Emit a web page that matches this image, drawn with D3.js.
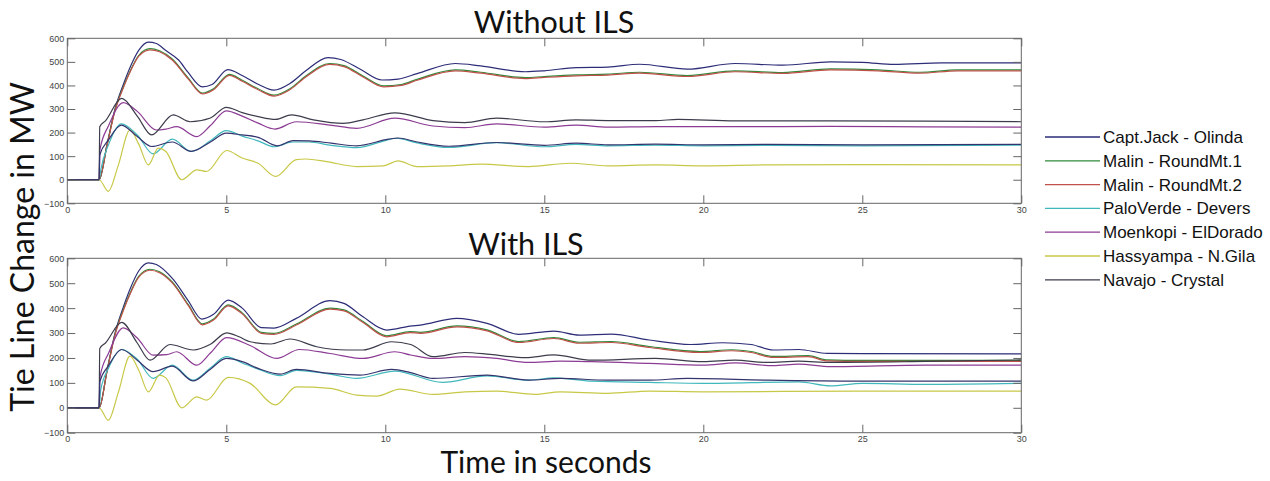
<!DOCTYPE html>
<html><head><meta charset="utf-8">
<script src="https://cdn.jsdelivr.net/npm/d3@7"></script>
<style>body{margin:0;background:#fff;} svg{display:block;}</style>
</head><body>
<svg id="chart" width="1270" height="481"></svg>
<script>
// ---------- data ----------
const seriesNames = ["Capt.Jack - Olinda","Malin - RoundMt.1","Malin - RoundMt.2","PaloVerde - Devers","Moenkopi - ElDorado","Hassyampa - N.Gila","Navajo - Crystal"];
const xTicks = [0,5,10,15,20,25,30];
const yTicks = [-100,0,100,200,300,400,500,600];
const panelTitles = ["Without ILS","With ILS"];

// Without ILS : [time s, MW]
const captJackTop = [[0,0],[1,0],[1.25,150],[1.5,300],[1.75,400],[2.0,485],[2.25,550],[2.55,584],[2.8,578],[3.1,548],[3.5,508],[3.8,455],[4.25,394],[4.55,404],[5.05,467],[5.5,442],[6.0,405],[6.5,380],[7.0,408],[7.5,462],[8.2,518],[8.6,510],[9.2,470],[9.9,423],[10.4,427],[11,450],[12.2,493],[13,483],[14.4,458],[15,462],[16,476],[17,478],[18,490],[19.5,469],[21,493],[22.5,486],[24,500],[25,498],[26,489],[27.5,496],[30,496]];
const malin1Top = [[0,0],[1,0],[1.25,148],[1.5,295],[1.75,390],[2.0,468],[2.25,528],[2.6,556],[2.9,547],[3.3,512],[3.8,432],[4.25,368],[4.6,386],[5.1,447],[5.5,422],[6.0,386],[6.5,359],[7.0,386],[7.5,440],[8.25,493],[8.7,484],[9.3,440],[9.95,398],[10.5,404],[11,426],[12.2,466],[13,456],[14.4,433],[15,438],[16,445],[17,448],[18,456],[19.5,442],[21,462],[22.5,455],[24,470],[25.5,466],[26.8,456],[28,466],[30,466]];
const malin2Top = [[0,0],[1,0],[1.25,146],[1.5,292],[1.75,386],[2.0,464],[2.25,524],[2.6,551],[2.9,543],[3.3,508],[3.8,428],[4.25,364],[4.6,382],[5.1,443],[5.5,418],[6.0,382],[6.5,355],[7.0,382],[7.5,436],[8.25,489],[8.7,480],[9.3,436],[9.95,394],[10.5,400],[11,422],[12.2,462],[13,452],[14.4,429],[15,434],[16,441],[17,444],[18,452],[19.5,438],[21,458],[22.5,451],[24,466],[25.5,462],[26.8,452],[28,462],[30,462]];
const paloVerdeTop = [[0,0],[1,0],[1.05,40],[1.3,150],[1.7,237],[2.2,190],[2.7,110],[3.3,172],[3.9,120],[4.5,165],[5.0,208],[5.5,185],[6.0,165],[6.5,140],[7.1,160],[7.6,160],[8.3,146],[9.1,136],[10.0,166],[10.35,176],[11,156],[12,137],[13.5,157],[15,140],[16,150],[17,144],[18.5,147],[20,144],[22,146],[25,144],[30,147]];
const moenkopiTop = [[0,0],[1,0],[1.03,130],[1.3,230],[1.76,327],[2.2,290],[2.8,211],[3.1,215],[3.44,225],[4.07,183],[4.5,230],[5.0,292],[5.5,270],[6.0,240],[6.53,215],[7.2,246],[8.26,232],[9.1,218],[10.3,261],[11.5,228],[12.5,221],[13.5,237],[15,223],[16,232],[17,223],[18.5,225],[21,225],[24,226],[27,224],[30,223]];
const hassyampaTop = [[0,0],[1,0],[1.29,-49],[1.6,60],[1.97,211],[2.25,150],[2.55,63],[2.86,134],[3.1,120],[3.6,0],[4.07,42],[4.38,35],[5.01,124],[5.5,92],[6.0,70],[6.55,14],[7.2,85],[7.5,88],[8.15,77],[9.1,56],[9.94,59],[10.4,80],[11,56],[12,59],[13,66],[14.5,56],[15.8,70],[17,59],[18.5,63],[20,59],[22,63],[25,64],[30,63]];
const navajoTop = [[0,0],[1,0],[1.02,225],[1.2,250],[1.71,345],[2.2,270],[2.65,190],[3.33,275],[3.86,246],[4.5,262],[5.0,307],[5.5,285],[6.0,268],[6.55,256],[7.05,275],[7.74,254],[8.68,239],[9.3,254],[10.3,284],[11.5,251],[12.5,242],[13.5,261],[15,246],[16,254],[17,251],[18.5,251],[19.2,256],[21,250],[24,250],[27,249],[30,246]];
const extraTop = [[0,0],[1,0],[1.02,105],[1.3,170],[1.7,232],[2.2,183],[2.65,141],[3.3,160],[3.9,120],[4.5,160],[5.0,198],[5.5,190],[6.0,180],[6.6,144],[7.1,166],[7.6,165],[8.3,155],[9.1,144],[10.1,172],[10.4,177],[11,160],[12,142],[13.5,158],[15,146],[16,155],[17,148],[18.5,151],[20,148],[22,150],[25,148],[30,150]];

// With ILS
const captJackBot = [[0,0],[1,0],[1.25,150],[1.5,300],[1.75,400],[2.0,485],[2.25,550],[2.55,582],[2.8,575],[3.33,515],[3.8,430],[4.23,356],[4.6,375],[5.06,432],[5.5,400],[6.1,322],[6.5,320],[7.2,359],[8.26,430],[8.7,419],[9.3,365],[10.04,312],[10.78,328],[11.1,332],[12.25,359],[13.2,339],[14.2,295],[15.3,308],[16.1,292],[17.1,296],[18.3,272],[19.6,254],[20.6,261],[21.5,254],[22.2,232],[23,234],[23.9,218],[25,217],[30,216]];
const malin1Bot = [[0,0],[1,0],[1.25,148],[1.5,295],[1.75,390],[2.0,468],[2.25,528],[2.6,556],[2.9,546],[3.3,505],[3.8,415],[4.25,337],[4.6,356],[5.06,413],[5.5,381],[6.1,303],[6.5,299],[7.2,336],[8.26,400],[8.7,393],[9.3,346],[10.04,289],[10.78,306],[11.1,303],[12.25,329],[13.2,313],[14.2,266],[15.3,282],[16.1,263],[17.1,266],[18.3,246],[19.9,226],[20.9,233],[21.5,226],[22.2,206],[23.3,209],[23.9,192],[25,190],[30,190]];
const malin2Bot = [[0,0],[1,0],[1.25,146],[1.5,292],[1.75,386],[2.0,464],[2.25,524],[2.6,552],[2.9,542],[3.3,501],[3.8,411],[4.25,333],[4.6,352],[5.06,409],[5.5,377],[6.1,299],[6.5,295],[7.2,332],[8.26,396],[8.7,389],[9.3,342],[10.04,285],[10.78,302],[11.1,299],[12.25,325],[13.2,309],[14.2,262],[15.3,278],[16.1,259],[17.1,262],[18.3,242],[19.9,222],[20.9,229],[21.5,222],[22.2,202],[23.3,205],[23.9,188],[25,186],[30,186]];
const paloVerdeBot = [[0,0],[1,0],[1.05,71],[1.3,160],[1.71,234],[2.2,195],[2.7,118],[3.3,171],[3.95,111],[4.5,160],[5.0,205],[5.5,180],[6.0,155],[6.7,129],[7.2,150],[8.26,135],[9.1,118],[10.3,147],[11.8,102],[13.2,128],[14.5,111],[15.3,120],[16.5,107],[18.3,102],[20,98],[23,104],[24,88],[25,98],[27,94],[30,98]];
const moenkopiBot = [[0,0],[1,0],[1.03,125],[1.3,220],[1.76,321],[2.2,280],[2.7,211],[3.13,213],[3.44,225],[4.07,171],[4.5,220],[5.01,282],[5.75,250],[6.58,198],[7.3,234],[8.26,218],[9.3,198],[10.3,225],[10.8,212],[11.5,198],[12.5,205],[13.5,198],[14.5,182],[15.5,187],[16.5,185],[18.3,178],[20,171],[21,180],[22.2,169],[23,175],[24,165],[27,171],[30,171]];
const hassyampaBot = [[0,0],[1,0],[1.29,-50],[1.6,60],[1.97,207],[2.25,150],[2.55,64],[2.9,131],[3.1,120],[3.6,0],[4.07,44],[4.38,31],[5.06,122],[5.75,98],[6.55,12],[7.2,84],[8.26,78],[9.1,51],[9.73,47],[10.46,75],[11.5,54],[12.5,64],[13.5,67],[14.7,54],[15.5,64],[17,58],[18.3,67],[20,64],[25,67],[30,67]];
const navajoBot = [[0,0],[1,0],[1.02,238],[1.2,260],[1.71,343],[2.2,260],[2.6,191],[3.23,254],[3.96,232],[4.5,255],[5.01,301],[5.4,285],[5.75,265],[6.4,256],[7.0,276],[7.84,245],[8.8,232],[9.3,232],[10.2,265],[10.8,254],[11.5,205],[12.5,222],[13.3,214],[14.4,201],[15.3,212],[16.5,191],[18.5,198],[20,185],[21,191],[22,182],[23,187],[24,182],[27,186],[30,192]];
const extraBot = [[0,0],[1,0],[1.02,104],[1.3,170],[1.71,234],[2.2,191],[2.7,145],[3.3,167],[3.95,108],[4.5,155],[5.0,198],[5.5,185],[6.0,158],[6.7,135],[7.2,154],[8.26,138],[9.2,131],[10.2,154],[10.8,141],[11.5,118],[13.2,131],[14.5,111],[15.5,118],[17,111],[18.3,111],[19.5,118],[22,111],[25,107],[30,107]];

const colors = ["#2d2d78","#2f8a3a","#c0504a","#40b8bc","#8c3c94","#c8c848","#3c3c4c","#34346e"];

// ---------- layout ----------
const svg = d3.select("#chart");
const left = 67.3, right = 1021.3;
const titleFont = "Lato, 'Open Sans', sans-serif";
const panels = [
  {top:38.3, bottom:203.3, title:panelTitles[0], titleX:554, titleY:33,
   data:[captJackTop,malin1Top,malin2Top,paloVerdeTop,moenkopiTop,hassyampaTop,navajoTop,extraTop]},
  {top:258.3, bottom:432.7, title:panelTitles[1], titleX:526, titleY:255,
   data:[captJackBot,malin1Bot,malin2Bot,paloVerdeBot,moenkopiBot,hassyampaBot,navajoBot,extraBot]}
];
const x = d3.scaleLinear().domain([0,30]).range([left,right]);

panels.forEach((p,pi) => {
  const y = d3.scaleLinear().domain([-100,600]).range([p.bottom,p.top]);
  const g = svg.append("g");
  const clipId = "clip"+pi;
  svg.append("clipPath").attr("id",clipId).append("rect")
    .attr("x",left).attr("y",p.top).attr("width",right-left).attr("height",p.bottom-p.top);

  const line = d3.line().x(d=>x(d[0])).y(d=>y(d[1])).curve(d3.curveMonotoneX);
  const lg = g.append("g").attr("clip-path",`url(#${clipId})`);
  p.data.forEach((s,i) => {
    lg.append("path").attr("d",line(s)).attr("fill","none")
      .attr("stroke",colors[i]).attr("stroke-width",1.2).attr("stroke-linejoin","round");
  });

  const tickLen = 8;
  const axStyle = a => { a.select(".domain").remove();
    a.selectAll("line").attr("stroke","#666");
    a.selectAll("text").attr("fill","#444").attr("font-family","Liberation Sans, Arial, sans-serif").attr("font-size",9); };
  g.append("g").attr("transform",`translate(0,${p.bottom})`)
    .call(d3.axisBottom(x).tickValues(xTicks).tickFormat(d3.format("d")).tickSizeInner(-tickLen).tickSizeOuter(0).tickPadding(3))
    .call(axStyle);
  g.append("g").attr("transform",`translate(0,${p.top})`)
    .call(d3.axisTop(x).tickValues(xTicks).tickFormat("").tickSizeInner(-tickLen).tickSizeOuter(0))
    .call(axStyle);
  g.append("g").attr("transform",`translate(${left},0)`)
    .call(d3.axisLeft(y).tickValues(yTicks).tickFormat(d3.format("d")).tickSizeInner(-tickLen).tickSizeOuter(0).tickPadding(3))
    .call(axStyle);
  g.append("g").attr("transform",`translate(${right},0)`)
    .call(d3.axisRight(y).tickValues(yTicks).tickFormat("").tickSizeInner(-tickLen).tickSizeOuter(0))
    .call(axStyle);
  g.append("rect").attr("x",left).attr("y",p.top).attr("width",right-left).attr("height",p.bottom-p.top)
    .attr("fill","none").attr("stroke","#666").attr("stroke-width",1);

  svg.append("text").attr("x",p.titleX).attr("y",p.titleY).attr("text-anchor","middle")
    .attr("font-family",titleFont).attr("font-size",30.5).attr("fill","#111").text(p.title);
});

// axis titles
svg.append("text").attr("x",546).attr("y",473).attr("text-anchor","middle")
  .attr("font-family",titleFont).attr("font-size",30).attr("fill","#111").text("Time in seconds");
svg.append("text").attr("transform","translate(34,247) rotate(-90)").attr("text-anchor","middle")
  .attr("font-family",titleFont).attr("font-size",32).attr("fill","#111").text("Tie Line Change in MW");

// legend
const leg = svg.append("g");
seriesNames.forEach((n,i) => {
  const ly = 137 + i*23.8;
  leg.append("line").attr("x1",1045).attr("x2",1100).attr("y1",ly).attr("y2",ly)
    .attr("stroke",colors[i]).attr("stroke-width",1.3);
  leg.append("text").attr("x",1103).attr("y",ly+6).attr("font-family","Liberation Sans, Arial, sans-serif")
    .attr("font-size",17).attr("fill","#111").text(n);
});
</script>
</body></html>
